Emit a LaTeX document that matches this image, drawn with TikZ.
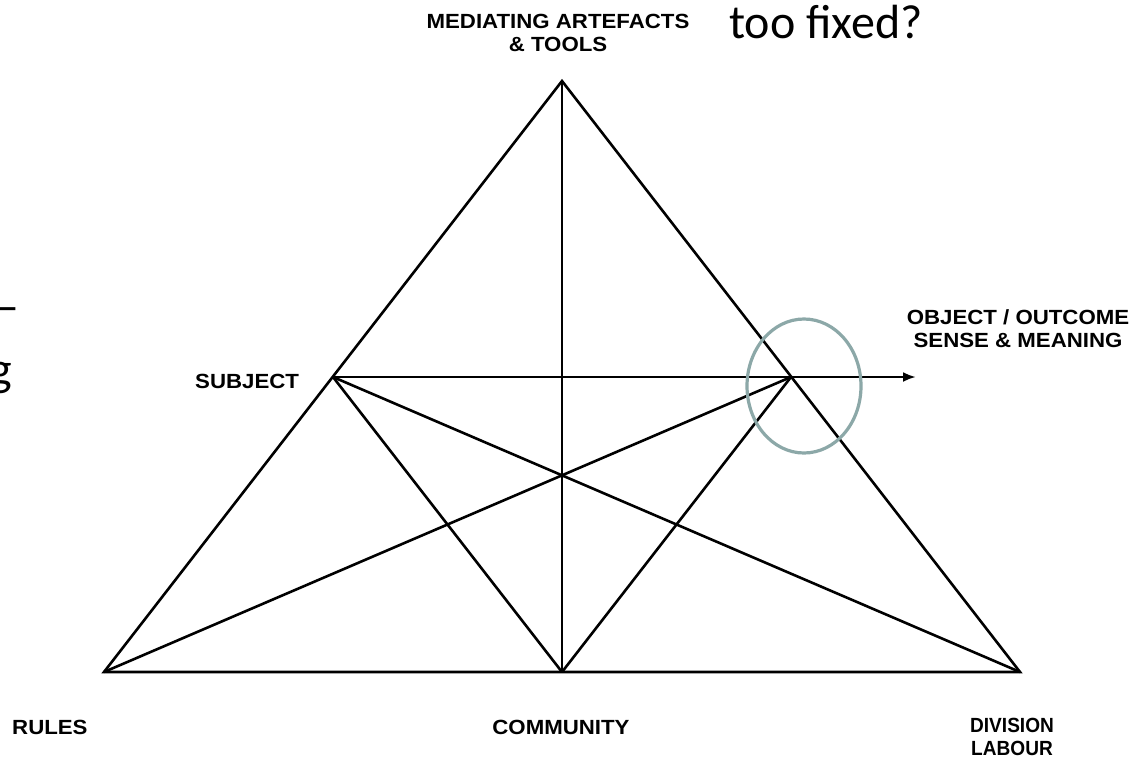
\documentclass[tikz,border=0pt]{standalone}
\usepackage{fontspec}
\setmainfont{Liberation Sans}
\newfontfamily\calib{Carlito}
\newfontfamily\lblfont[FakeStretch=1.085]{Liberation Sans Bold}
\newfontfamily\lblnarrow[FakeStretch=0.93]{Liberation Sans Bold}
\usetikzlibrary{arrows.meta}
\definecolor{ringcol}{RGB}{140,168,168}
\tikzset{
  edge/.style={line width=2.6pt, black},
  lbl/.style={font=\lblfont\fontsize{20.5}{23}\selectfont, align=center, inner sep=0pt},
  note/.style={font=\calib\fontsize{48}{56}\selectfont, inner sep=0pt},
}
\begin{document}
\begin{tikzpicture}[x=1pt,y=-1pt]
\useasboundingbox (0,0) rectangle (1132,758);
% vertices
\coordinate (A) at (562,81);    % apex
\coordinate (BL) at (104,672);
\coordinate (BR) at (1020,672);
\coordinate (BM) at (562,672);
\coordinate (S) at (333,377);
\coordinate (O) at (791,377);
\coordinate (T) at (916,377);
% triangle and inner lines
\draw[edge, line join=miter] (BL) -- (A) -- (BR) -- cycle;
\draw[edge] (A) -- (BM);
\draw[edge] (S) -- (BM);
\draw[edge] (S) -- (BR);
\draw[edge] (BL) -- (O);
\draw[edge] (O) -- (BM);
\draw[edge, -{Latex[length=13pt,width=10pt]}] (S) -- (T);
% highlight ring
\draw[ringcol, line width=3.2pt] (804,386) ellipse [x radius=57, y radius=67];
% labels
\node[lbl, anchor=north] (med) at (558,14) {MEDIATING ARTEFACTS\\\& TOOLS};
\node[lbl, anchor=west] (subj) at (195,381) {SUBJECT};
\node[lbl, anchor=north] (obj) at (1018,309) {OBJECT / OUTCOME\\SENSE \& MEANING};
\node[lbl, anchor=west] (rules) at (12,727) {RULES};
\node[lbl] (comm) at (561,727) {COMMUNITY};
\node[lbl, font=\lblnarrow\fontsize{20.5}{23}\selectfont, anchor=north] (div) at (1012,718) {DIVISION\\LABOUR};
% notes
\node[note, anchor=base west] (fixed) at (729,38) {too fixed?};
\node[note, anchor=east] (dash) at (20,315) {—};
\node[note, anchor=base east] (gg) at (12,385) {g};
\end{tikzpicture}
\end{document}
